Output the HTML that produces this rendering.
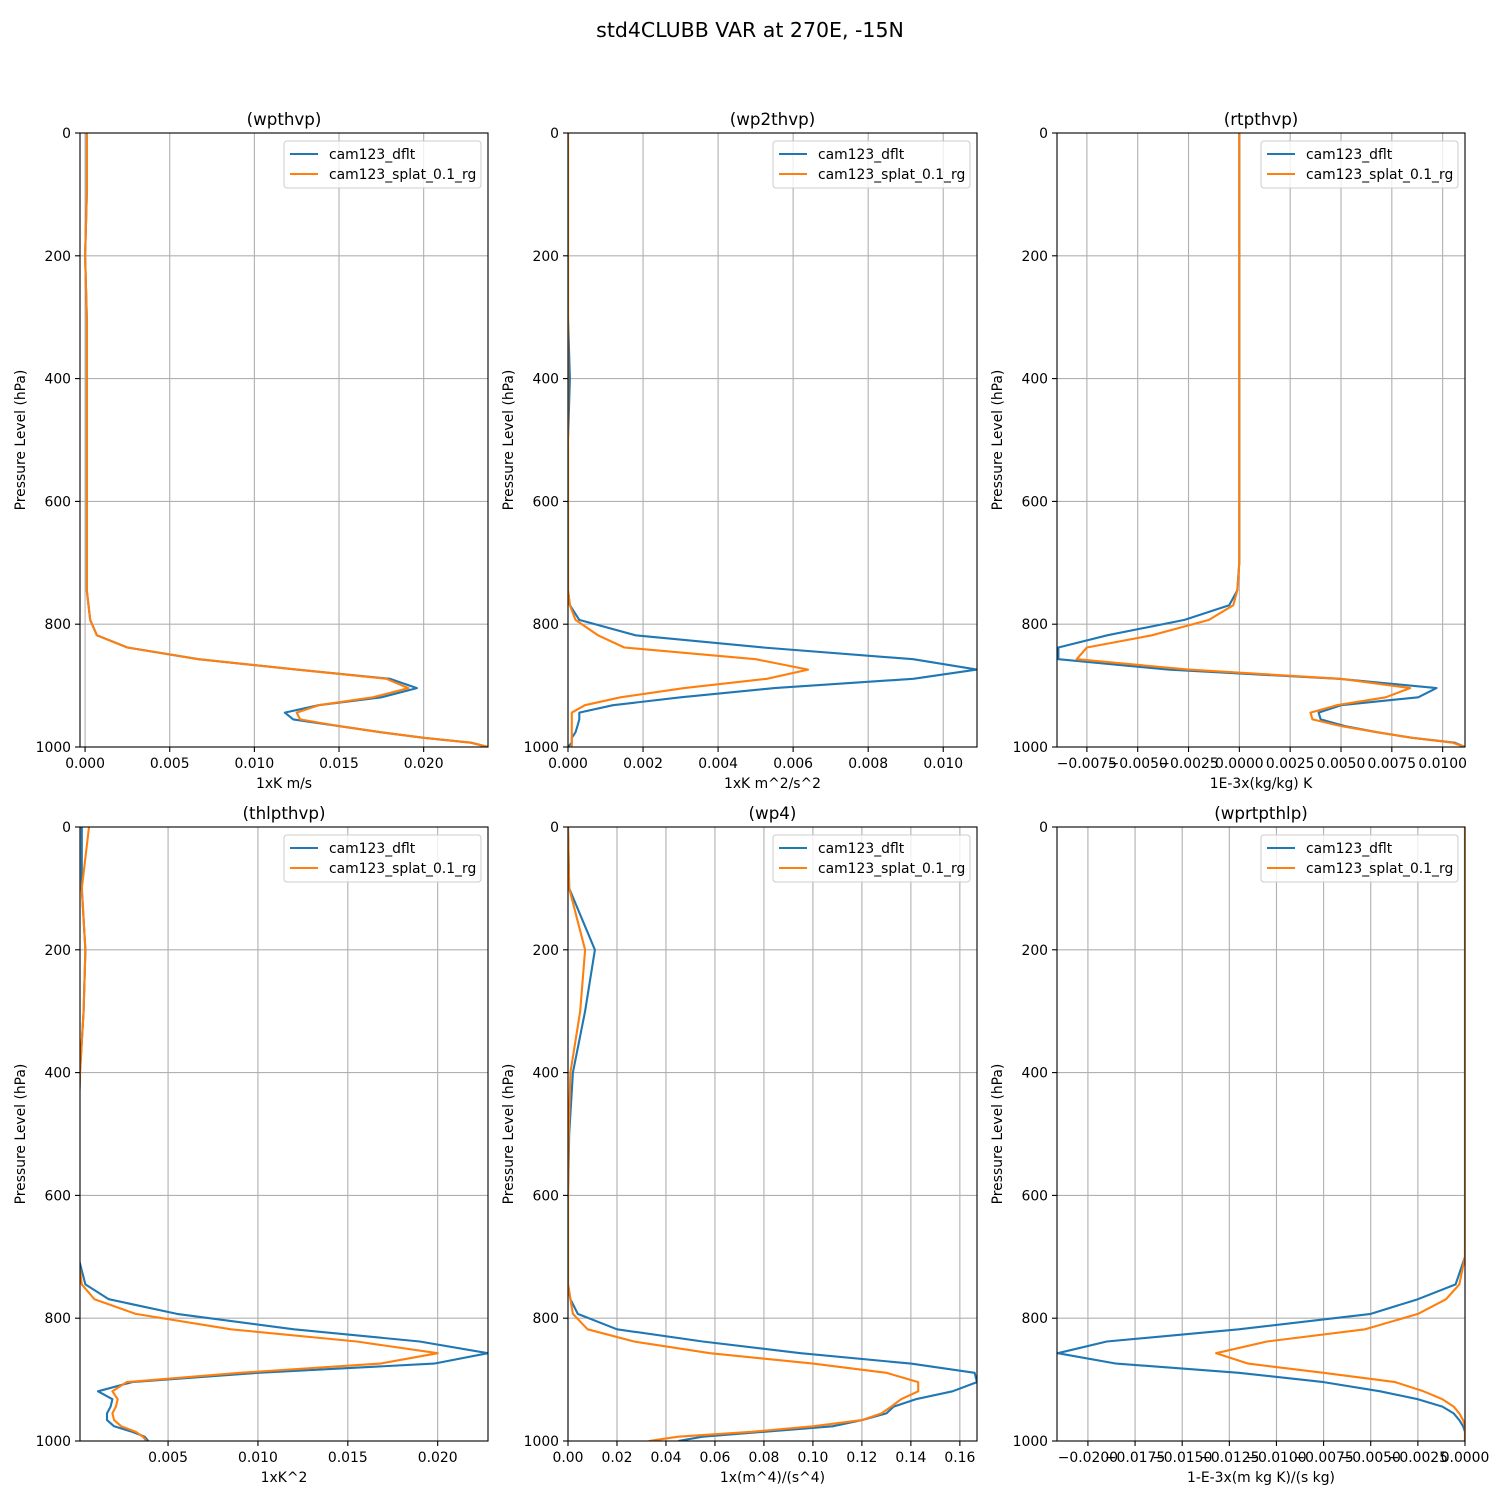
<!DOCTYPE html>
<html><head><meta charset="utf-8"><style>
body{margin:0;background:#fff;}
svg text{font-family:"DejaVu Sans","Liberation Sans",sans-serif;}
</style></head><body>
<svg id="fig" width="1500" height="1500" xmlns="http://www.w3.org/2000/svg">
<rect width="1500" height="1500" fill="#fff"/>
<text x="750" y="37" font-size="20.5" text-anchor="middle">std4CLUBB VAR at 270E, -15N</text>
</svg>
<script>
const levels = [0,100,200,300,400,500,600,700,745,769,793,818,838,857,874,889,904,919,932,944,955,966,976,985,993,1000];
const yTicks = [0,200,400,600,800,1000];
const seriesNames = ['cam123_dflt','cam123_splat_0.1_rg'];

const titles = ['(wpthvp)','(wp2thvp)','(rtpthvp)','(thlpthvp)','(wp4)','(wprtpthlp)'];
const xLabels = ['1xK m/s','1xK m^2/s^2','1E-3x(kg/kg) K','1xK^2','1x(m^4)/(s^4)','1-E-3x(m kg K)/(s kg)'];
const xLims = [[-0.0003,0.0238],[0,0.0109],[-0.00897,0.0111],[0.0001,0.0228],[0,0.167],[-0.02164,0]];
const xTicks0 = [0,0.005,0.010,0.015,0.020];
const xTicks1 = [0,0.002,0.004,0.006,0.008,0.010];
const xTicks2 = [-0.0075,-0.005,-0.0025,0,0.0025,0.005,0.0075,0.01];
const xTicks3 = [0.005,0.010,0.015,0.020];
const xTicks4 = [0,0.02,0.04,0.06,0.08,0.10,0.12,0.14,0.16];
const xTicks5 = [-0.02,-0.0175,-0.015,-0.0125,-0.01,-0.0075,-0.005,-0.0025,0];
const tickDigits = [3,3,4,3,2,4];

const wpthvpBlue = [0.0001,0.0001,0,0.0001,0.0001,0.0001,0.0001,0.0001,0.0001,0.0002,0.0003,0.0007,0.0025,0.0067,0.0125,0.018,0.0196,0.0175,0.0138,0.0118,0.0123,0.015,0.0175,0.020,0.0228,0.0238];
const wpthvpOrange = [0.0001,0.0001,0,0.0001,0.0001,0.0001,0.0001,0.0001,0.0001,0.0002,0.0003,0.0007,0.0025,0.0067,0.0125,0.0178,0.0191,0.017,0.0138,0.0125,0.0127,0.015,0.0175,0.020,0.0228,0.0238];
const wp2thvpBlue = [0,0,0,0,0.00005,0,0,0,0,0.00005,0.0003,0.0018,0.0052,0.0092,0.0109,0.0092,0.0055,0.0030,0.0012,0.0003,0.0003,0.00025,0.0002,0.0001,0.0001,0];
const wp2thvpOrange = [0,0,0,0,0,0,0,0,0,0.00005,0.0002,0.0008,0.0015,0.005,0.0064,0.0053,0.0031,0.0014,0.00045,0.0001,0.0001,0.0001,0.0001,0.0001,0.0001,0.0001];
const rtpthvpBlue = [0,0,0,0,0,0,0,0,-0.0001,-0.0005,-0.0027,-0.0065,-0.0089,-0.0089,-0.0035,0.0049,0.0097,0.0088,0.0050,0.0039,0.0040,0.0052,0.0068,0.0085,0.0106,0.0111];
const rtpthvpOrange = [0,0,0,0,0,0,0,0,-0.0001,-0.0003,-0.0015,-0.0043,-0.0075,-0.0080,-0.0025,0.0050,0.0084,0.0072,0.0048,0.0035,0.0036,0.005,0.0068,0.0085,0.0105,0.0111];
const thlpthvpBlue = [0.0002,0.0002,0.0004,0.0003,0.0001,0,0,0,0.0004,0.0017,0.0055,0.012,0.019,0.0228,0.0198,0.010,0.003,0.0011,0.0019,0.0018,0.0016,0.0016,0.002,0.003,0.0037,0.0039];
const thlpthvpOrange = [0.0006,0.0002,0.0004,0.0003,0.0001,0,0,0,0.0002,0.0009,0.0032,0.0085,0.0155,0.020,0.0168,0.009,0.0027,0.0019,0.0022,0.0021,0.0019,0.002,0.0024,0.0032,0.0036,0.0038];
const wp4Blue = [0,0.0005,0.011,0.007,0.002,0.0005,0,0,0,0.001,0.004,0.020,0.055,0.095,0.140,0.166,0.167,0.157,0.142,0.133,0.130,0.120,0.108,0.080,0.055,0.045];
const wp4Orange = [0,0.0005,0.007,0.005,0.001,0.0003,0,0,0,0.001,0.002,0.008,0.027,0.058,0.100,0.130,0.143,0.143,0.136,0.132,0.128,0.120,0.100,0.075,0.045,0.033];
const wprtpthlpBlue = [0,0,0,0,0,0,0,0,-0.0005,-0.0025,-0.005,-0.012,-0.019,-0.0216,-0.0185,-0.012,-0.0075,-0.0045,-0.0025,-0.0012,-0.0006,-0.0003,-0.0001,0,0,0];
const wprtpthlpOrange = [0,0,0,0,0,0,0,0,-0.0003,-0.001,-0.0025,-0.0053,-0.0105,-0.0132,-0.0115,-0.0075,-0.0037,-0.0022,-0.0012,-0.0006,-0.0003,-0.0001,0,0,0,0];

const blues=[wpthvpBlue,wp2thvpBlue,rtpthvpBlue,thlpthvpBlue,wp4Blue,wprtpthlpBlue];
const oranges=[wpthvpOrange,wp2thvpOrange,rtpthvpOrange,thlpthvpOrange,wp4Orange,wprtpthlpOrange];
const allTicks=[xTicks0,xTicks1,xTicks2,xTicks3,xTicks4,xTicks5];

const NS='http://www.w3.org/2000/svg';
const svg=document.getElementById('fig');
function mk(tag,attrs,parent,text){const e=document.createElementNS(NS,tag);for(const k in attrs)e.setAttribute(k,attrs[k]);if(text!==undefined)e.textContent=text;(parent||svg).appendChild(e);return e;}
const cols=[[80,488],[568,977],[1057,1465]];
const rows=[[133,747],[827,1441]];
function fmt(v,d){let s=v.toFixed(d);if(Math.abs(v)<1e-12)s=(0).toFixed(d);return s.replace('-','\u2212');}
const FS=13.9;

for(let i=0;i<6;i++){
  const [x0,x1]=cols[i%3],[y0,y1]=rows[Math.floor(i/3)];
  const [lo,hi]=xLims[i];
  const xs=v=>x0+(v-lo)/(hi-lo)*(x1-x0);
  const ys=p=>y0+p/1000*(y1-y0);
  const g=mk('g',{});
  
  
  for(const t of allTicks[i]){const X=xs(t);
    const l=mk('line',{x1:X,x2:X,y1:y0,y2:y1,stroke:'#b0b0b0','stroke-width':1.1},g);
    
    mk('line',{x1:X,x2:X,y1:y1,y2:y1+5,stroke:'#000','stroke-width':1.1},g);
    const tx=mk('text',{x:X,y:y1+21,'font-size':FS,'text-anchor':'middle'},g,fmt(t,tickDigits[i]));
    }
  for(const t of yTicks){const Y=ys(t);
    const l=mk('line',{x1:x0,x2:x1,y1:Y,y2:Y,stroke:'#b0b0b0','stroke-width':1.1},g);
    
    mk('line',{x1:x0-5,x2:x0,y1:Y,y2:Y,stroke:'#000','stroke-width':1.1},g);
    const tx=mk('text',{x:x0-9,y:Y+5,'font-size':FS,'text-anchor':'end'},g,String(t));
    }
  const defs=mk('clipPath',{id:'c'+i},g);mk('rect',{x:x0,y:y0,width:x1-x0,height:y1-y0},defs);
  [[blues[i],'#1f77b4'],[oranges[i],'#ff7f0e']].forEach(([arr,c],k)=>{
    const pts=arr.map((v,j)=>xs(v).toFixed(1)+','+ys(levels[j]).toFixed(1)).join(' ');
    const pl=mk('polyline',{points:pts,fill:'none',stroke:c,'stroke-width':2.1,'stroke-linejoin':'round','clip-path':'url(#c'+i+')'},g);
    
    });
  const fr=mk('rect',{x:x0,y:y0,width:x1-x0,height:y1-y0,fill:'none',stroke:'#000','stroke-width':1.1},g);
  
  const tt=mk('text',{x:(x0+x1)/2,y:y0-8,'font-size':16.7,'text-anchor':'middle'},g,titles[i]);
  
  const xl=mk('text',{x:(x0+x1)/2,y:y1+41,'font-size':FS,'text-anchor':'middle'},g,xLabels[i]);
  
  const yl=mk('text',{x:0,y:0,'font-size':FS,'text-anchor':'middle',transform:`translate(${x0-55},${(y0+y1)/2}) rotate(-90)`},g,'Pressure Level (hPa)');
  
  const lg=mk('g',{},g);
  
  const lx=x1-204,ly=y0+8;
  mk('rect',{x:lx,y:ly,width:197,height:47,rx:3,fill:'#fff','fill-opacity':0.8,stroke:'#ccc'},lg);
  seriesNames.forEach((n,k)=>{const yy=ly+13+k*20;
    mk('line',{x1:lx+6,x2:lx+34,y1:yy,y2:yy,stroke:k?'#ff7f0e':'#1f77b4','stroke-width':2.1},lg);
    const t=mk('text',{x:lx+45,y:yy+5,'font-size':FS},lg,n);
    });
}
</script>
</body></html>
